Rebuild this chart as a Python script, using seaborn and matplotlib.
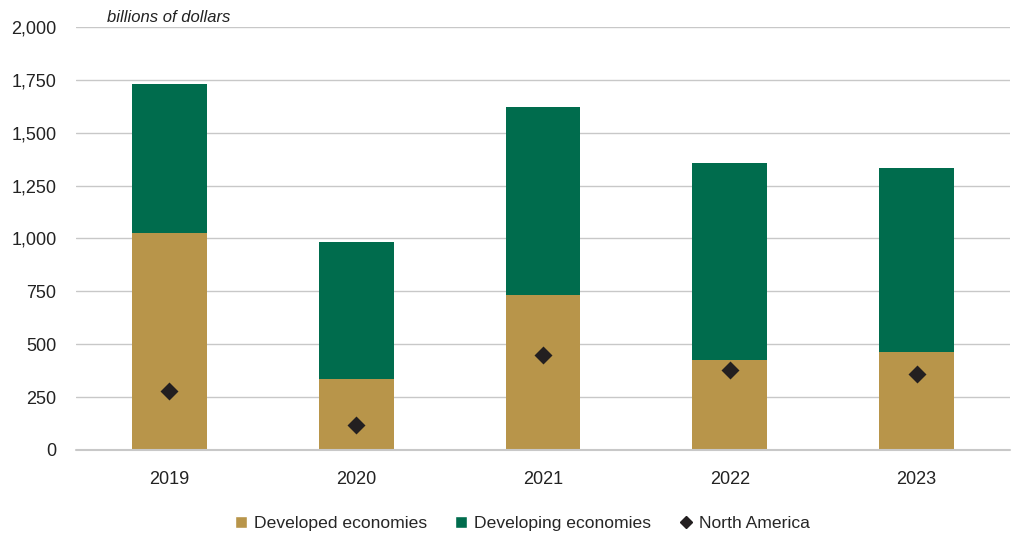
import pandas as pd
import matplotlib.pyplot as plt
import seaborn as sns
from matplotlib.patches import Patch
from matplotlib.lines import Line2D

years = ['2019', '2020', '2021', '2022', '2023']
developed = [1026, 336, 733, 425, 463]
developing = [704, 647, 889, 932, 870]
north_america = [279, 118, 449, 378, 359]

tan = '#B8954A'
green = '#006C4D'
dark = '#231F20'

df = pd.DataFrame({'Year': years, 'Developed': developed, 'Developing': developing,
                   'NorthAmerica': north_america})
df['Total'] = df['Developed'] + df['Developing']

sns.set_style('white')
plt.rcParams['font.family'] = ['Liberation Sans', 'DejaVu Sans']

fig = plt.figure(figsize=(10.14, 5.35), dpi=100)
ax = fig.add_axes([0.075, 0.159, 0.921, 0.7905])

# stacked bars: total (green) underneath, developed (tan) on top of it
sns.barplot(data=df, x='Year', y='Total', color=green, width=0.4, saturation=1,
            linewidth=0, ax=ax, zorder=2)
sns.barplot(data=df, x='Year', y='Developed', color=tan, width=0.4, saturation=1,
            linewidth=0, ax=ax, zorder=3)
sns.pointplot(data=df, x='Year', y='NorthAmerica', color=dark, marker='D', markersize=7,
              linestyle='none', ax=ax, zorder=4)

ax.set_ylim(0, 2000)
ax.set_yticks(range(0, 2001, 250))
ax.set_yticklabels([f'{v:,}' for v in range(0, 2001, 250)])
ax.set_xlim(-0.5, 4.5)
ax.grid(axis='y', color='#C8C8C8', linewidth=1, zorder=0)
ax.set_axisbelow(True)
ax.axhline(0, color='#C8C8C8', linewidth=1.5, zorder=5, clip_on=False)
for s in ax.spines.values():
    s.set_visible(False)
ax.tick_params(axis='both', length=0, labelsize=13, colors='#222222')
ax.tick_params(axis='x', pad=15)
ax.tick_params(axis='y', pad=14)
ax.set_xlabel('')
ax.set_ylabel('')

ax.text(0.033, 2010, 'billions of dollars', transform=ax.get_yaxis_transform(),
        fontsize=12, style='italic', color='#222222', va='bottom', ha='left')

handles = [Patch(facecolor=tan, label='Developed economies'),
           Patch(facecolor=green, label='Developing economies'),
           Line2D([], [], color=dark, marker='D', linestyle='none', markersize=6,
                  label='North America')]
fig.legend(handles=handles, loc='lower center', bbox_to_anchor=(0.515, -0.022), ncol=3,
           frameon=False, fontsize=12.6, handlelength=0.7, handleheight=0.7,
           handletextpad=0.4, columnspacing=1.6)

fig.savefig('out.png', dpi=100)
